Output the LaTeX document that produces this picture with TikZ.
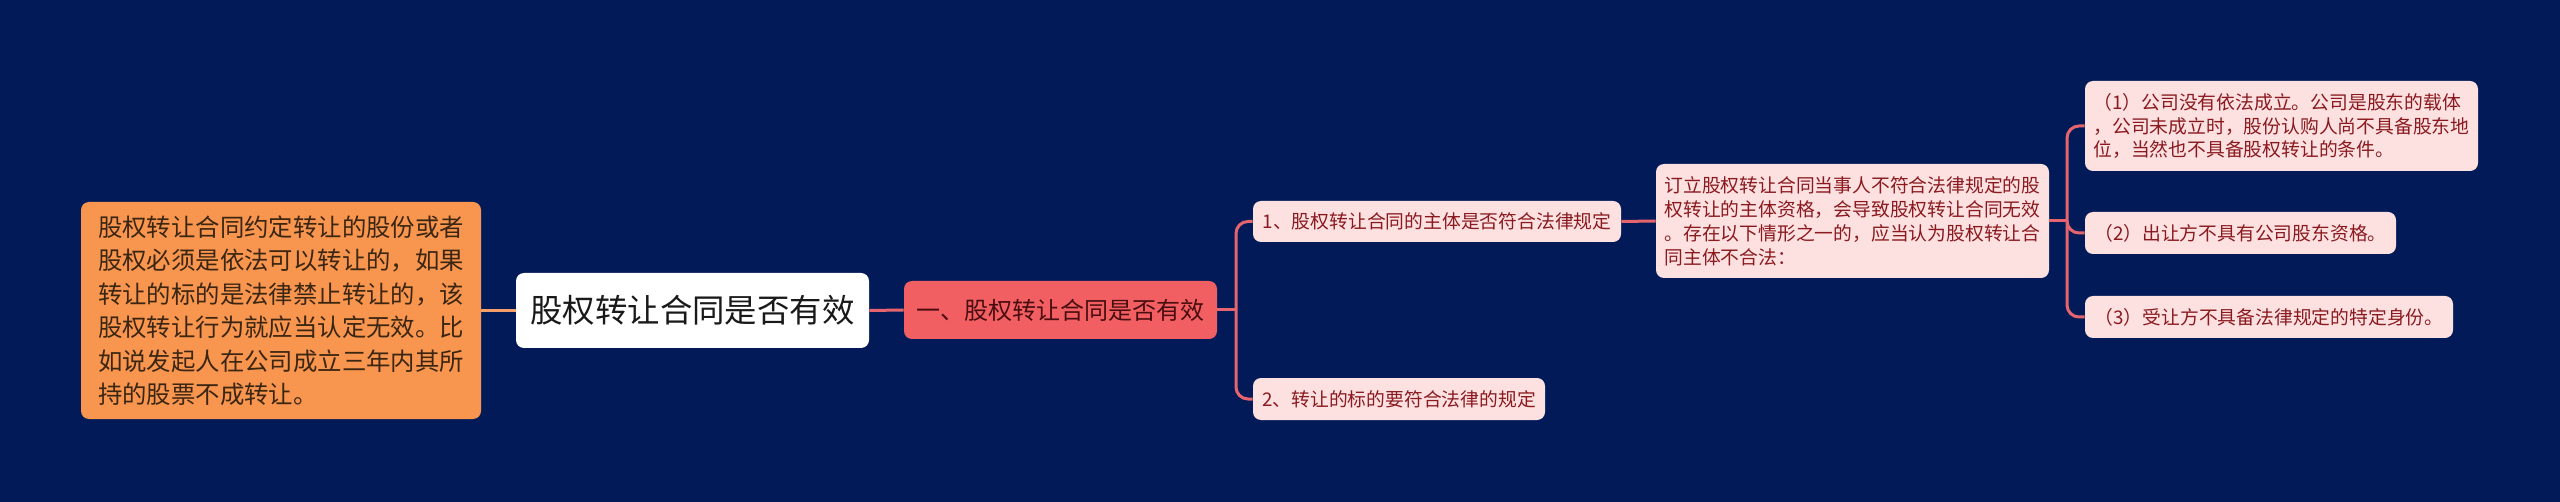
\documentclass[tikz,border=0pt]{standalone}
\usepackage{fontspec}
\newfontfamily\cjk{Noto Sans CJK SC}
\definecolor{bg}{HTML}{021B58}
\definecolor{orfill}{HTML}{F8954F}
\definecolor{ortext}{HTML}{3B2612}
\definecolor{rdfill}{HTML}{F15F62}
\definecolor{rdtext}{HTML}{4A0D10}
\definecolor{pkfill}{HTML}{FDE1E1}
\definecolor{pktext}{HTML}{8A1A1F}
\definecolor{orline}{HTML}{F5A06A}
\definecolor{rdline}{HTML}{E5646E}
\tikzset{
  basebox/.style={rounded corners=4pt, inner sep=0pt, align=left},
  orbox/.style={basebox, fill=orfill, text=ortext, font={\cjk\fontsize{12.2}{16.75}\selectfont}},
  rootbox/.style={basebox, fill=white, text=black!90, font={\cjk\fontsize{16.2}{20}\selectfont}},
  rdbox/.style={basebox, fill=rdfill, text=rdtext, font={\cjk\fontsize{12}{15}\selectfont}},
  pkbox/.style={basebox, fill=pkfill, text=pktext, font={\cjk\fontsize{9.4}{12}\selectfont}},
  orlink/.style={draw=orline, line width=1.5pt},
  rdlink/.style={draw=rdline, line width=1.5pt, rounded corners=6pt},
}
\begin{document}
\begin{tikzpicture}[x=0.5pt, y=-0.5pt]
\path[fill=bg] (0,0) rectangle (2560,502);
\node[orbox, minimum width=200pt, minimum height=108.5pt] (or) at (281,310.5)
  {股权转让合同约定转让的股份或者\\股权必须是依法可以转让的，如果\\转让的标的是法律禁止转让的，该\\股权转让行为就应当认定无效。比\\如说发起人在公司成立三年内其所\\持的股票不成转让。};
\node[rootbox, minimum width=176.5pt, minimum height=37.5pt] (root) at (692.5,310.5) {股权转让合同是否有效};
\node[rdbox, minimum width=156.5pt, minimum height=29pt] (rd) at (1060.5,310) {一、股权转让合同是否有效};
\node[pkbox, minimum width=184pt, minimum height=20.5pt] (b1) at (1437,221.5) {1、股权转让合同的主体是否符合法律规定};
\node[pkbox, minimum width=146pt, minimum height=21pt] (b2) at (1399,399) {2、转让的标的要符合法律的规定};
\node[pkbox, minimum width=196.5pt, minimum height=57pt] (b4) at (1852.5,221)
  {订立股权转让合同当事人不符合法律规定的股\\权转让的主体资格，会导致股权转让合同无效\\。存在以下情形之一的，应当认为股权转让合\\同主体不合法：};
\node[pkbox, minimum width=196.5pt, minimum height=45pt, font={\cjk\fontsize{9.4}{11.75}\selectfont}] (ba) at (2281.5,126)
  {（1）公司没有依法成立。公司是股东的载体\\，公司未成立时，股份认购人尚不具备股东地\\位，当然也不具备股权转让的条件。};
\node[pkbox, minimum width=155.5pt, minimum height=21pt] (bb) at (2240.5,233) {（2）出让方不具有公司股东资格。};
\node[pkbox, minimum width=184pt, minimum height=21pt] (bc) at (2269,317) {（3）受让方不具备法律规定的特定身份。};
\coordinate (j1) at (1236,310);
\coordinate (j2) at (2067,221);
\draw[orlink] (or.east) -- (root.west);
\draw[rdlink] (root.east) -- (rd.west);
\draw[rdlink] (rd.east) -- (j1);
\draw[rdlink] (j1) |- (b1.west);
\draw[rdlink] (j1) |- (b2.west);
\draw[rdlink] (b1.east) -- (b4.west);
\draw[rdlink] (b4.east) -- (j2);
\draw[rdlink] (j2) |- (ba.west);
\draw[rdlink] (j2) |- (bb.west);
\draw[rdlink] (j2) |- (bc.west);
\end{tikzpicture}
\end{document}
